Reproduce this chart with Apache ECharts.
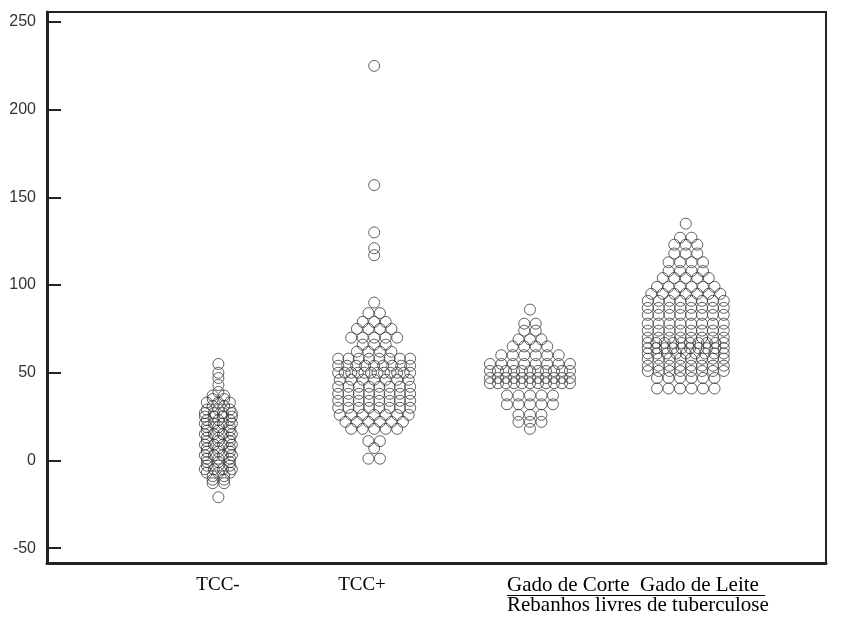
<!DOCTYPE html>
<html>
<head>
<meta charset="utf-8">
<script src="https://cdn.jsdelivr.net/npm/echarts@6/dist/echarts.min.js"></script>
<style>
  html, body { margin: 0; padding: 0; background: #fff; }
  #chart { width: 847px; height: 621px; }
</style>
</head>
<body>
<div id="chart"></div>
<script>
// valores (pontos com o mesmo valor ficam lado a lado)
var tccNeg = [55, 50, 47, 43, 39, 37, 37, 35, 35, 33, 33, 33, 31, 31, 29, 29, 29,
  27, 27, 27, 27, 25, 25, 25, 25, 23, 23, 23, 21, 21, 21, 21, 19, 19, 19, 17, 17, 17,
  15, 15, 15, 15, 13, 13, 13, 11, 11, 11, 9, 9, 9, 9, 7, 7, 7, 5, 5, 5, 3, 3, 3, 3,
  1, 1, 1, -1, -1, -1, -3, -3, -3, -5, -5, -5, -5, -7, -7, -7, -9, -9, -11, -11,
  -13, -13, -21];
var tccPos = [225, 157, 130, 121, 117, 90, 84, 84, 79, 79, 79, 75, 75, 75, 75,
  70, 70, 70, 70, 70, 66, 66, 66, 62, 62, 62, 62,
  58, 58, 58, 58, 58, 58, 58, 58, 54, 54, 54, 54, 54, 54, 54, 54, 54,
  50, 50, 50, 50, 50, 50, 50, 50, 50, 50, 50, 50, 46, 46, 46, 46, 46, 46, 46,
  42, 42, 42, 42, 42, 42, 42, 42, 38, 38, 38, 38, 38, 38, 38, 38,
  34, 34, 34, 34, 34, 34, 34, 34, 30, 30, 30, 30, 30, 30, 30, 30,
  26, 26, 26, 26, 26, 26, 26, 22, 22, 22, 22, 22, 22, 18, 18, 18, 18, 18,
  11, 11, 7, 1, 1];
var gadoCorte = [86, 78, 78, 74, 74, 69, 69, 69, 65, 65, 65, 65, 60, 60, 60, 60, 60, 60,
  55, 55, 55, 55, 55, 55, 55, 55, 51, 51, 51, 51, 51, 51, 51, 51, 51, 51, 51,
  47, 47, 47, 47, 47, 47, 47, 47, 47, 47, 47, 44, 44, 44, 44, 44, 44, 44, 44, 44, 44, 44,
  37, 37, 37, 37, 37, 32, 32, 32, 32, 32, 26, 26, 26, 22, 22, 22, 18];
var gadoLeite = [135, 127, 127, 123, 123, 123, 118, 118, 118, 113, 113, 113, 113,
  108, 108, 108, 108, 104, 104, 104, 104, 104, 99, 99, 99, 99, 99, 99,
  95, 95, 95, 95, 95, 95, 95, 91, 91, 91, 91, 91, 91, 91, 91,
  87, 87, 87, 87, 87, 87, 87, 87, 83, 83, 83, 83, 83, 83, 83, 83,
  78, 78, 78, 78, 78, 78, 78, 78, 74, 74, 74, 74, 74, 74, 74, 74,
  70, 70, 70, 70, 70, 70, 70, 70, 67, 67, 67, 67, 67, 67, 67, 67, 67, 67,
  64, 64, 64, 64, 64, 64, 64, 64, 64, 64, 61, 61, 61, 61, 61, 61, 61, 61, 61,
  58, 58, 58, 58, 58, 58, 58, 58, 54, 54, 54, 54, 54, 54, 54, 54,
  51, 51, 51, 51, 51, 51, 51, 51, 47, 47, 47, 47, 47, 47, 41, 41, 41, 41, 41, 41];
var yTicks = [-50, 0, 50, 100, 150, 200, 250];

var chart = echarts.init(document.getElementById('chart'));

var gridLeft = 47, gridRight = 21;
var xMin = -0.1, xMax = 4.9;
var pxPerUnit = (847 - gridLeft - gridRight) / (xMax - xMin);
var dotStep = 11.5; // distância entre pontos da mesma linha (px)

// espalha na horizontal os pontos que têm o mesmo valor
function swarm(values, center, maxSpan) {
  var counts = {}, order = [];
  values.forEach(function (v) {
    if (!counts[v]) { counts[v] = 0; order.push(v); }
    counts[v]++;
  });
  var pts = [];
  order.forEach(function (v) {
    var n = counts[v];
    var step = n > 1 ? Math.min(dotStep, maxSpan / (n - 1)) : 0;
    for (var i = 0; i < n; i++) {
      pts.push([center + (i - (n - 1) / 2) * step / pxPerUnit, v]);
    }
  });
  return pts;
}

var circleStyle = {
  color: 'rgba(0,0,0,0)',
  borderColor: '#3a3a3a',
  borderWidth: 1
};

function dots(values, center, maxSpan) {
  return {
    type: 'scatter',
    symbol: 'circle',
    symbolSize: 11,
    itemStyle: circleStyle,
    data: swarm(values, center, maxSpan)
  };
}

var serif = '"Liberation Serif", "Times New Roman", serif';

var option = {
  animation: false,
  grid: {
    left: gridLeft,
    right: gridRight,
    top: 12,
    bottom: 58,
    show: true,
    borderColor: '#222',
    borderWidth: 2
  },
  xAxis: {
    type: 'value',
    min: xMin,
    max: xMax,
    axisLine: { show: true, onZero: false, lineStyle: { color: '#222', width: 3 } },
    axisTick: { show: false },
    axisLabel: { show: false },
    splitLine: { show: false }
  },
  yAxis: {
    type: 'value',
    min: -58.5,
    max: 255.7,
    axisLine: { show: true, onZero: false, lineStyle: { color: '#222', width: 3 } },
    axisTick: {
      show: true,
      inside: true,
      length: 14,
      customValues: yTicks,
      lineStyle: { color: '#222', width: 2 }
    },
    axisLabel: {
      customValues: yTicks,
      color: '#333',
      fontSize: 16,
      fontFamily: '"Liberation Sans", Arial, sans-serif',
      margin: 11
    },
    splitLine: { show: false }
  },
  series: [
    dots(tccNeg, 1, 27),
    dots(tccPos, 2, 72),
    dots(gadoCorte, 3, 80),
    dots(gadoLeite, 4, 76)
  ],
  graphic: [
    { type: 'text', x: 218, y: 585, style: { text: 'TCC-', font: '19px ' + serif, fill: '#000', align: 'center', verticalAlign: 'middle' } },
    { type: 'text', x: 362, y: 585, style: { text: 'TCC+', font: '19px ' + serif, fill: '#000', align: 'center', verticalAlign: 'middle' } },
    { type: 'text', x: 507, y: 585, style: { text: 'Gado de Corte  Gado de Leite', font: '21px ' + serif, fill: '#000', align: 'left', verticalAlign: 'middle' } },
    { type: 'line', shape: { x1: 507, y1: 595.5, x2: 765, y2: 595.5 }, style: { stroke: '#000', lineWidth: 1 } },
    { type: 'text', x: 507, y: 605, style: { text: 'Rebanhos livres de tuberculose', font: '21px ' + serif, fill: '#000', align: 'left', verticalAlign: 'middle' } }
  ]
};

chart.setOption(option);
</script>
</body>
</html>
